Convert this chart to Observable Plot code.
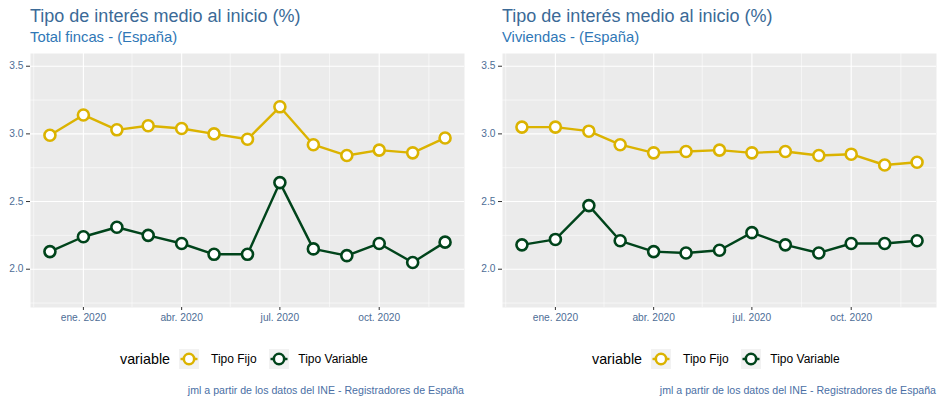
<!DOCTYPE html>
<html><head><meta charset="utf-8">
<script src="https://cdn.jsdelivr.net/npm/d3@7"></script>
<script src="https://cdn.jsdelivr.net/npm/@observablehq/plot@0.6"></script>
<style>
body{margin:0;background:#fff;font-family:"Liberation Sans",Arial,sans-serif;}
#root{position:relative;width:944px;height:404px;overflow:hidden;background:#fff}
.panel{position:absolute;top:0;width:472px;height:404px}
.title{position:absolute;left:30px;top:5px;font-size:18px;line-height:22px;color:#3b6a97;white-space:nowrap}
.subtitle{position:absolute;left:30px;top:28px;font-size:14.8px;line-height:18px;color:#2f77b6;white-space:nowrap}
.lgtitle{position:absolute;left:120px;top:349px;font-size:14.3px;line-height:20px;color:#000;white-space:nowrap}
.lgtext{position:absolute;top:349px;font-size:12px;line-height:20px;color:#000;white-space:nowrap}
.lgkey{position:absolute;top:349px}
.caption{position:absolute;right:8px;top:383px;font-size:10.6px;line-height:14px;color:#4a6fa5;white-space:nowrap}
</style>
</head><body>
<div id="root"></div>
<script>
// ---- data ----
const months = ["2019-12-01","2020-01-01","2020-02-01","2020-03-01","2020-04-01","2020-05-01","2020-06-01","2020-07-01","2020-08-01","2020-09-01","2020-10-01","2020-11-01","2020-12-01"];
const fincasFijo      = [2.99,3.14,3.03,3.06,3.04,3.00,2.96,3.20,2.92,2.84,2.88,2.86,2.97];
const fincasVariable  = [2.13,2.24,2.31,2.25,2.19,2.11,2.11,2.64,2.15,2.10,2.19,2.05,2.20];
const viviendasFijo     = [3.05,3.05,3.02,2.92,2.86,2.87,2.88,2.86,2.87,2.84,2.85,2.77,2.79];
const viviendasVariable = [2.18,2.22,2.47,2.21,2.13,2.12,2.14,2.27,2.18,2.12,2.19,2.19,2.21];
const seriesNames = ["Tipo Fijo","Tipo Variable"];
const panelTitle = "Tipo de interés medio al inicio (%)";
const subtitles = ["Total fincas - (España)","Viviendas - (España)"];
const captionText = "jml a partir de los datos del INE - Registradores de España";
const legendTitle = "variable";
const xTickDates = ["2020-01-01","2020-04-01","2020-07-01","2020-10-01"];
const xTickLabels = ["ene. 2020","abr. 2020","jul. 2020","oct. 2020"];
const xMinorDates = ["2019-11-16","2020-02-15","2020-05-16","2020-08-16","2020-11-16"];
const yTicks = [2.0,2.5,3.0,3.5];
const yMinor = [1.75,2.25,2.75,3.25];

// ---- styling ----
const colors = ["#dbb300","#00441b"];
const labelColor = "#4d6d96";

const root = document.getElementById("root");
const parseD = s => new Date(s + "T00:00:00Z");
const tickDates = xTickDates.map(parseD);
const labelByTime = new Map(tickDates.map((d,i)=>[+d, xTickLabels[i]]));

function makeData(fijo, variable){
  const out = [];
  months.forEach((m,i)=>out.push({date: parseD(m), value: fijo[i], variable: seriesNames[0]}));
  months.forEach((m,i)=>out.push({date: parseD(m), value: variable[i], variable: seriesNames[1]}));
  return out;
}

function keySvg(color){
  const ns="http://www.w3.org/2000/svg";
  const svg=document.createElementNS(ns,"svg");
  svg.setAttribute("width","20");svg.setAttribute("height","20");
  svg.innerHTML = `<rect x="0" y="0" width="20" height="20" fill="#f2f2f2"/>
  <line x1="1.5" y1="10" x2="18.5" y2="10" stroke="${color}" stroke-width="2.4"/>
  <circle cx="10" cy="10" r="5.2" fill="#fff" stroke="${color}" stroke-width="2.6"/>`;
  return svg;
}

const panels = [makeData(fincasFijo, fincasVariable), makeData(viviendasFijo, viviendasVariable)];

panels.forEach((data, p) => {
  const panel = document.createElement("div");
  panel.className = "panel";
  panel.style.left = (p*472) + "px";
  root.appendChild(panel);

  const t = document.createElement("div"); t.className="title"; t.textContent = panelTitle; panel.appendChild(t);
  const s = document.createElement("div"); s.className="subtitle"; s.textContent = subtitles[p]; panel.appendChild(s);

  const chart = Plot.plot({
    width: 472, height: 285,
    marginTop: 8, marginBottom: 23, marginLeft: 30, marginRight: 8,
    style: {fontFamily: "'Liberation Sans', Arial, sans-serif", fontSize: "10px", background: "transparent", overflow: "visible"},
    x: {type: "utc", domain: [parseD("2019-11-13"), parseD("2020-12-19")], label: null},
    y: {domain: [1.717, 3.594], label: null},
    color: {domain: seriesNames, range: colors},
    marks: [
      Plot.frame({fill: "#ebebeb", stroke: "none"}),
      Plot.ruleY(yMinor, {stroke: "#fff", strokeWidth: 0.55}),
      Plot.ruleX(xMinorDates.map(parseD), {stroke: "#fff", strokeWidth: 0.55}),
      Plot.ruleY(yTicks, {stroke: "#fff", strokeWidth: 1.1}),
      Plot.ruleX(tickDates, {stroke: "#fff", strokeWidth: 1.1}),
      Plot.line(data, {x: "date", y: "value", z: "variable", stroke: "variable", strokeWidth: 2.4}),
      Plot.dot(data, {x: "date", y: "value", stroke: "variable", fill: "#fff", r: 5.5, strokeWidth: 2.6}),
      Plot.axisY(yTicks, {label: null, tickSize: 4, tickPadding: 3, tickFormat: d3.format(".1f"), stroke: "#333", fill: labelColor, fontSize: 10.2}),
      Plot.axisX(tickDates, {label: null, tickSize: 3, tickPadding: 3, tickFormat: d => labelByTime.get(+d), stroke: "#333", fill: labelColor, fontSize: 10.2})
    ]
  });
  chart.style.position = "absolute"; chart.style.left = "0px"; chart.style.top = "45px";
  panel.appendChild(chart);

  const lt = document.createElement("div"); lt.className="lgtitle"; lt.textContent = legendTitle; panel.appendChild(lt);
  const keyLefts = [179.3, 269.3];
  const textLefts = [211, 298.3];
  seriesNames.forEach((name,i)=>{
    const k = document.createElement("div"); k.className="lgkey"; k.style.left = keyLefts[i]+"px";
    k.appendChild(keySvg(colors[i])); panel.appendChild(k);
    const tx = document.createElement("div"); tx.className="lgtext"; tx.style.left = textLefts[i]+"px";
    tx.textContent = name; panel.appendChild(tx);
  });
  const c = document.createElement("div"); c.className="caption"; c.textContent = captionText; panel.appendChild(c);
});
</script>
</body></html>
